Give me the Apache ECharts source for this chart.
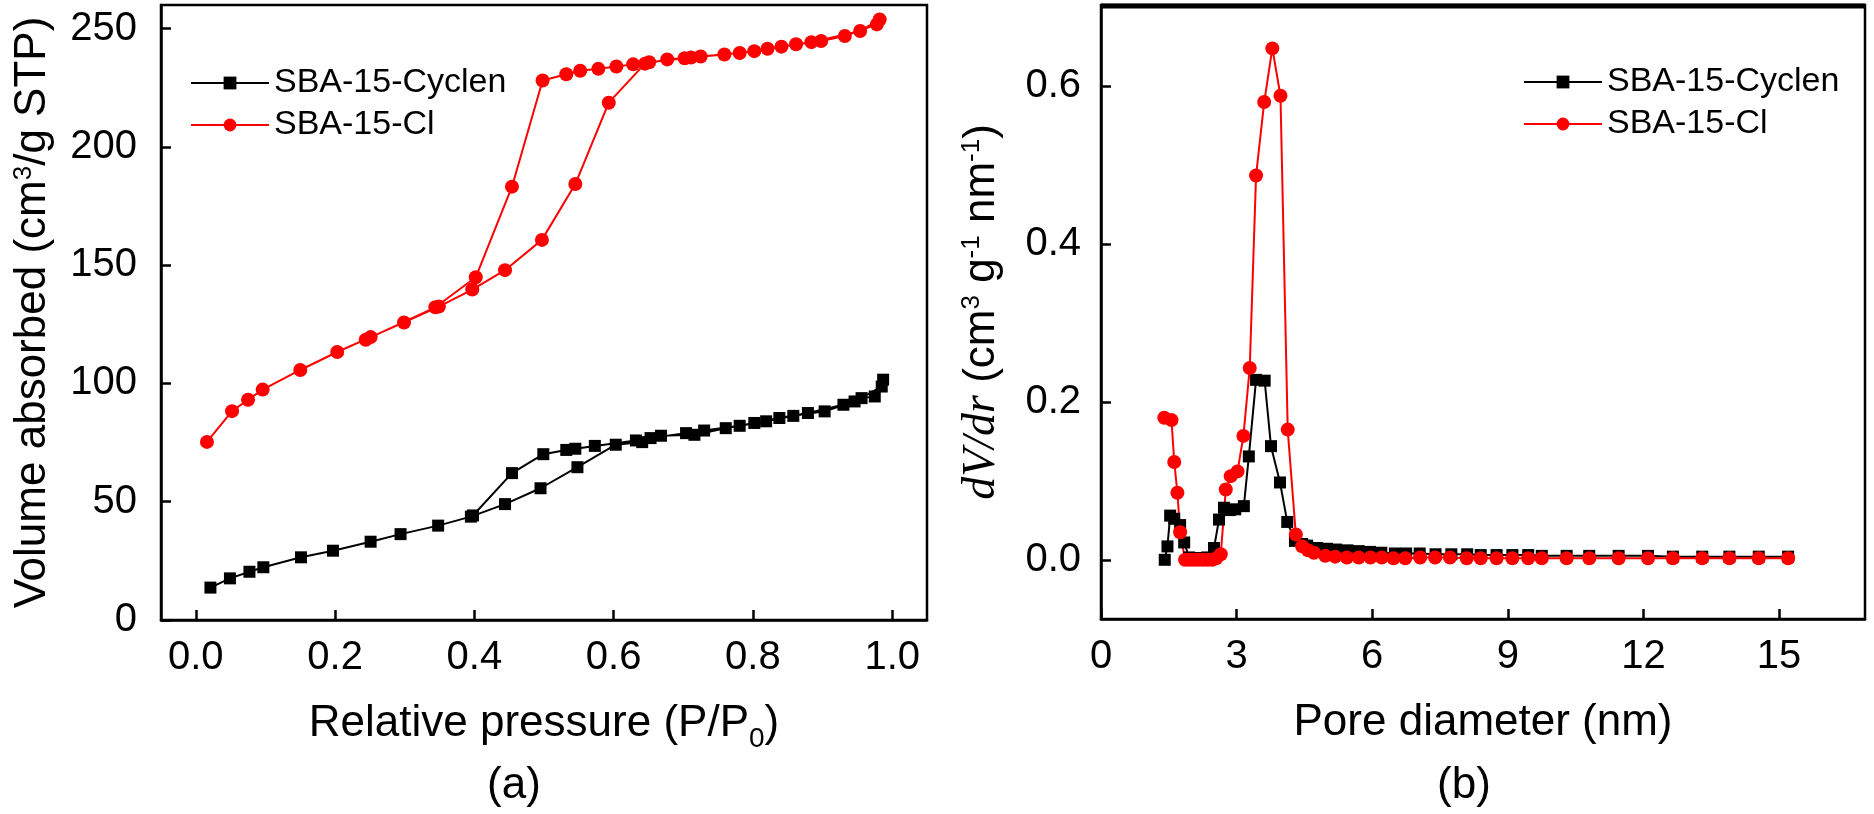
<!DOCTYPE html>
<html>
<head>
<meta charset="utf-8">
<title>SBA-15 isotherms and pore size</title>
<script src="https://cdn.jsdelivr.net/npm/echarts@6/dist/echarts.min.js"></script>
<style>
  html, body { margin: 0; padding: 0; background: #fff; }
  #main { width: 1874px; height: 814px; }
</style>
</head>
<body>
<div id="main"></div>
<script>
// (a) N2 isotherms, [P/P0, volume]
const cyclenAds = [[0.021,13.7],[0.049,17.6],[0.077,20.4],[0.097,22.3],[0.151,26.5],[0.197,29.3],[0.251,33.1],[0.294,36.3],[0.348,39.9],[0.395,43.7],[0.444,49.0],[0.495,55.7],[0.548,64.6],[0.603,74.1],[0.641,75.2],[0.668,77.9],[0.716,78.3],[0.761,81.1],[0.802,83.3],[0.838,85.4],[0.879,87.5],[0.930,91.0],[0.956,93.8],[0.975,94.5],[0.987,101.6]];
const cyclenDes = [[0.985,98.7],[0.946,92.4],[0.903,88.2],[0.858,86.3],[0.819,84.0],[0.781,82.1],[0.730,80.1],[0.704,79.0],[0.653,76.9],[0.632,75.9],[0.573,73.6],[0.545,72.4],[0.532,71.9],[0.499,70.1],[0.454,62.1],[0.398,44.2]];
const clAds = [[0.016,75.3],[0.052,88.3],[0.075,93.1],[0.096,97.4],[0.150,105.7],[0.203,113.3],[0.251,119.6],[0.299,125.8],[0.349,132.5],[0.397,139.7],[0.444,147.9],[0.497,160.7],[0.545,184.3],[0.593,218.7],[0.645,235.2],[0.677,237.0],[0.725,238.2],[0.781,239.7],[0.821,241.5],[0.862,243.4],[0.898,244.8],[0.932,246.9],[0.978,251.8],[0.982,253.9]];
const clDes = [[0.954,249.0],[0.884,244.3],[0.841,242.4],[0.802,240.5],[0.759,239.1],[0.711,237.8],[0.702,237.5],[0.651,235.8],[0.628,234.9],[0.604,234.0],[0.578,233.0],[0.552,232.2],[0.532,230.7],[0.498,228.1],[0.454,183.2],[0.402,144.9],[0.344,132.2],[0.244,118.5]];

// (b) pore size distribution, [diameter nm, dV/dr]
const cyclenPsd = [[1.41,0.0],[1.47,0.017],[1.53,0.056],[1.62,0.052],[1.75,0.044],[1.84,0.022],[1.95,0.003],[2.05,0.002],[2.15,0.002],[2.25,0.002],[2.35,0.003],[2.50,0.015],[2.61,0.051],[2.72,0.066],[2.85,0.063],[2.97,0.064],[3.16,0.068],[3.27,0.131],[3.43,0.228],[3.62,0.227],[3.76,0.144],[3.96,0.098],[4.12,0.048],[4.29,0.024],[4.45,0.020],[4.56,0.018],[4.78,0.015],[5.0,0.014],[5.2,0.013],[5.45,0.012],[5.7,0.011],[5.95,0.010],[6.2,0.009],[6.5,0.008],[6.75,0.008],[7.05,0.008],[7.4,0.007],[7.75,0.007],[8.1,0.007],[8.4,0.006],[8.75,0.006],[9.1,0.006],[9.45,0.006],[9.75,0.005],[10.3,0.005],[10.8,0.005],[11.45,0.005],[12.1,0.005],[12.65,0.004],[13.3,0.004],[13.9,0.004],[14.55,0.004],[15.2,0.004]];
const clPsd = [[1.40,0.180],[1.56,0.177],[1.62,0.124],[1.69,0.085],[1.75,0.035],[1.86,0.0],[1.96,0.0],[2.06,0.0],[2.16,0.0],[2.26,0.0],[2.36,0.0],[2.46,0.0],[2.55,0.002],[2.65,0.007],[2.76,0.089],[2.87,0.106],[3.02,0.112],[3.15,0.157],[3.29,0.243],[3.43,0.487],[3.61,0.580],[3.79,0.648],[3.97,0.588],[4.13,0.165],[4.31,0.032],[4.45,0.017],[4.58,0.012],[4.71,0.009],[4.96,0.005],[5.18,0.004],[5.44,0.003],[5.70,0.003],[5.96,0.003],[6.21,0.003],[6.47,0.002],[6.73,0.002],[7.06,0.003],[7.39,0.003],[7.72,0.003],[8.09,0.002],[8.4,0.002],[8.75,0.002],[9.1,0.002],[9.45,0.002],[9.75,0.002],[10.3,0.002],[10.8,0.002],[11.45,0.002],[12.1,0.002],[12.65,0.002],[13.3,0.002],[13.9,0.002],[14.55,0.002],[15.2,0.002]];

// tick labels
const pressureTicks = [0, 0.2, 0.4, 0.6, 0.8, 1.0];
const volumeTicks = [0, 50, 100, 150, 200, 250];
const diameterTicks = [0, 3, 6, 9, 12, 15];
const dvdrTicks = [0, 0.2, 0.4, 0.6];

const names = ['SBA-15-Cyclen', 'SBA-15-Cl'];

window.addEventListener('load', function () {
  let chart = echarts.init(document.getElementById('main'));
  const FONT = 'Liberation Sans';

  function xAxis(gi, min, max, ticks, fmt, name, gap) {
    return {
      type: 'value', gridIndex: gi, min: min, max: max,
      name: name, nameLocation: 'middle', nameGap: gap,
      nameTextStyle: {
        fontSize: 44, fontFamily: FONT, color: '#000',
        rich: { sub: { fontSize: 28, verticalAlign: 'top', padding: [30, 0, 0, 0], fontFamily: FONT, color: '#000' } }
      },
      axisLine: { onZero: false, lineStyle: { color: '#000', width: 2.5 } },
      axisTick: { inside: true, length: 10, customValues: ticks, lineStyle: { color: '#000', width: 2.5 } },
      axisLabel: { customValues: ticks, formatter: fmt, fontSize: 40, fontFamily: FONT, color: '#000', margin: 18 },
      splitLine: { show: false }
    };
  }

  function yAxis(gi, min, max, ticks, fmt, name, gap, margin) {
    return {
      type: 'value', gridIndex: gi, min: min, max: max,
      name: name, nameLocation: 'middle', nameGap: gap, nameRotate: 90,
      nameTextStyle: {
        fontSize: 44, fontFamily: FONT, color: '#000',
        rich: {
          sup: { fontSize: 26, verticalAlign: 'top', fontFamily: FONT, color: '#000' },
          it: { fontSize: 46, fontFamily: 'Liberation Serif', fontStyle: 'italic', color: '#000' }
        }
      },
      axisLine: { onZero: false, lineStyle: { color: '#000', width: 2.5 } },
      axisTick: { inside: true, length: 10, customValues: ticks, lineStyle: { color: '#000', width: 2.5 } },
      axisLabel: { customValues: ticks, formatter: fmt, fontSize: 40, fontFamily: FONT, color: '#000', margin: margin },
      splitLine: { show: false }
    };
  }

  function line(name, xi, data, black) {
    return {
      name: name, type: 'line', xAxisIndex: xi, yAxisIndex: xi,
      data: data,
      symbol: black ? 'rect' : 'circle',
      symbolSize: black ? 12 : 14,
      itemStyle: { color: black ? '#000' : '#ff0000' },
      lineStyle: { color: black ? '#000' : '#ff0000', width: 2 },
      emphasis: { disabled: true }
    };
  }

  let option = {
    animation: false,
    grid: [
      { left: 161, top: 5, width: 766, height: 615, show: true, borderColor: '#000', borderWidth: 2.5 },
      { left: 1101, top: 5, width: 764, height: 614, show: true, borderColor: '#000', borderWidth: 2.5 }
    ],
    legend: [
      {
        data: names, orient: 'vertical', left: 185, top: 61,
        itemWidth: 78, itemHeight: 16, itemGap: 8,
        textStyle: { fontSize: 34, fontFamily: FONT, color: '#000', lineHeight: 34 }
      },
      {
        data: names, orient: 'vertical', left: 1518, top: 60,
        itemWidth: 78, itemHeight: 16, itemGap: 8,
        textStyle: { fontSize: 34, fontFamily: FONT, color: '#000', lineHeight: 34 }
      }
    ],
    xAxis: [
      xAxis(0, -0.05, 1.05, pressureTicks, v => v.toFixed(1), 'Relative pressure (P/P{sub|0})', 75),
      xAxis(1, 0, 16.9, diameterTicks, v => String(v), 'Pore diameter (nm)', 82)
    ],
    yAxis: [
      yAxis(0, 0, 260, volumeTicks, v => String(v), 'Volume absorbed (cm{sup|3}/g STP)', 106, 24),
      yAxis(1, -0.075, 0.703, dvdrTicks, v => v.toFixed(1), '{it|dV/dr} (cm{sup|3} g{sup|-1} nm{sup|-1})', 96, 20)
    ],
    series: [
      line(names[0], 0, cyclenAds.concat(cyclenDes), true),
      line(names[1], 0, clAds.concat(clDes), false),
      line(names[0], 1, cyclenPsd, true),
      line(names[1], 1, clPsd, false)
    ],
    graphic: [
      { type: 'line', shape: { x1: 1101, y1: 6, x2: 1865, y2: 6 }, style: { stroke: '#000', lineWidth: 5 }, silent: true },
      { type: 'text', x: 514, y: 786, style: { text: '(a)', font: '44px "Liberation Sans"', fill: '#000', textAlign: 'center', textVerticalAlign: 'middle' } },
      { type: 'text', x: 1464, y: 786, style: { text: '(b)', font: '44px "Liberation Sans"', fill: '#000', textAlign: 'center', textVerticalAlign: 'middle' } }
    ]
  };
  chart.setOption(option);
});
</script>
</body>
</html>
